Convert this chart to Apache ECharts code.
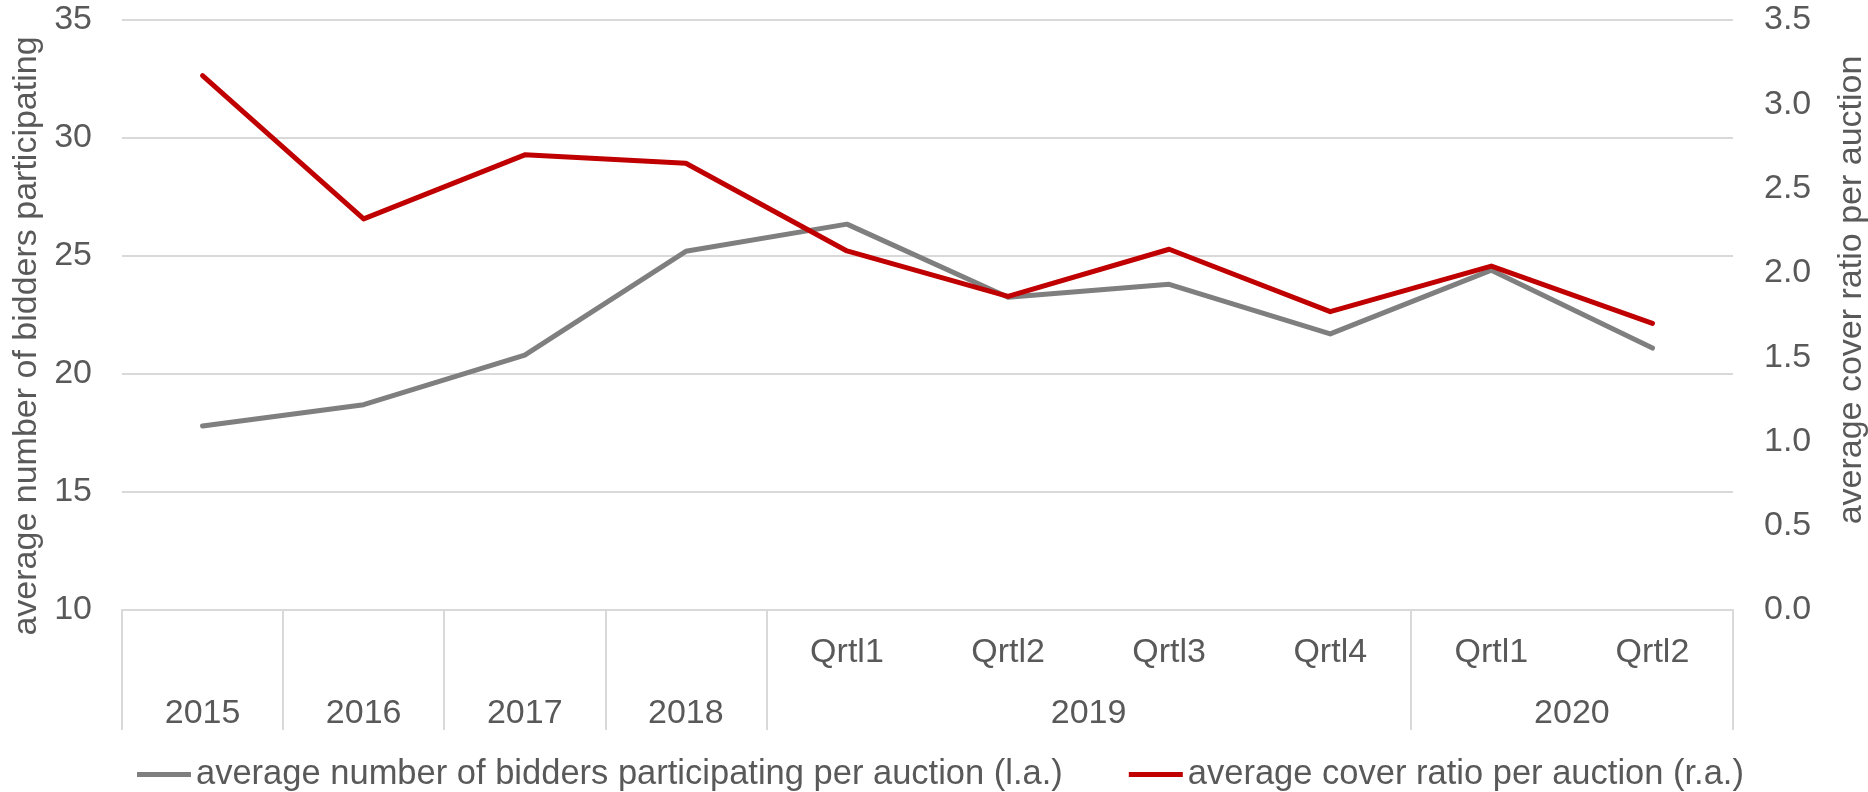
<!DOCTYPE html>
<html>
<head>
<meta charset="utf-8">
<script src="https://cdn.jsdelivr.net/npm/echarts@6/dist/echarts.min.js"></script>
<style>
  html, body { margin: 0; padding: 0; background: #fff; }
  #chart { width: 1868px; height: 792px; }
</style>
</head>
<body>
<div id="chart"></div>
<script>
// periods on the category axis
var quarter_labels = ['', '', '', '', 'Qrtl1', 'Qrtl2', 'Qrtl3', 'Qrtl4', 'Qrtl1', 'Qrtl2'];
var year_labels = ['2015', '2016', '2017', '2018', '2019', '2020'];
var year_spans = [1, 1, 1, 1, 4, 2];   // how many categories each year covers

// series values
var bidders_data = [17.8, 18.7, 20.8, 25.2, 26.35, 23.25, 23.8, 21.7, 24.4, 21.1];
var cover_data = [3.17, 2.32, 2.70, 2.65, 2.13, 1.86, 2.14, 1.77, 2.04, 1.70];

var left_ticks = { min: 10, max: 35, interval: 5 };
var right_ticks = { min: 0, max: 3.5, interval: 0.5 };

var font = 'Liberation Sans, Arial, sans-serif';
var text_color = '#595959';
var grid_color = '#d9d9d9';

// year row: half-category slots, label at the centre of each year, divider at each year edge
var year_slots = [];
var divider_slots = {};
for (var s = 0; s <= quarter_labels.length * 2; s++) year_slots.push('');
var acc = 0;
divider_slots[0] = true;
year_spans.forEach(function (n, i) {
  year_slots[acc * 2 + n] = year_labels[i];
  acc += n;
  divider_slots[acc * 2] = true;
});

var chart = echarts.init(document.getElementById('chart'));
chart.setOption({
  animation: false,
  grid: { left: 122, right: 135, top: 20, bottom: 182, outerBoundsMode: 'none' },
  legend: {
    top: 752,
    left: 132,
    itemWidth: 54,
    itemHeight: 5,
    itemGap: 66,
    icon: 'rect',
    textStyle: { fontFamily: font, fontSize: 34.5, color: text_color },
    data: ['average number of bidders participating per auction (l.a.)', 'average cover ratio per auction (r.a.)']
  },
  xAxis: [
    {
      type: 'category',
      data: quarter_labels,
      boundaryGap: true,
      axisLine: { onZero: false, lineStyle: { color: grid_color, width: 2 } },
      axisTick: { show: false },
      axisLabel: { fontFamily: font, fontSize: 34, color: text_color, margin: 26, interval: 0 }
    },
    {
      type: 'category',
      data: year_slots,
      boundaryGap: false,
      position: 'bottom',
      axisLine: { show: false, onZero: false },
      splitLine: { show: false },
      axisTick: {
        show: true,
        inside: false,
        length: 120,
        interval: function (i) { return !!divider_slots[i]; },
        lineStyle: { color: grid_color, width: 2 }
      },
      axisLabel: {
        fontFamily: font, fontSize: 34, color: text_color, margin: 87,
        interval: 0,
        showMinLabel: true,
        showMaxLabel: true
      }
    }
  ],
  yAxis: [
    {
      type: 'value',
      position: 'left',
      min: left_ticks.min,
      max: left_ticks.max,
      interval: left_ticks.interval,
      name: 'average number of bidders participating',
      nameLocation: 'middle',
      nameGap: 78,
      nameMoveOverlap: false,
      nameTextStyle: { fontFamily: font, fontSize: 34, color: text_color, padding: [0, 42, 0, 0] },
      axisLine: { show: false, onZero: false },
      axisTick: { show: false },
      splitLine: { lineStyle: { color: grid_color, width: 2 } },
      axisLabel: { fontFamily: font, fontSize: 34, color: text_color, margin: 30 }
    },
    {
      type: 'value',
      position: 'right',
      min: right_ticks.min,
      max: right_ticks.max,
      interval: right_ticks.interval,
      name: 'average cover ratio per auction',
      nameLocation: 'middle',
      nameGap: 102,
      nameMoveOverlap: false,
      nameTextStyle: { fontFamily: font, fontSize: 34, color: text_color, padding: [0, 0, 0, 50] },
      axisLine: { show: false, onZero: false },
      axisTick: { show: false },
      splitLine: { show: false },
      axisLabel: {
        fontFamily: font, fontSize: 34, color: text_color, margin: 31,
        formatter: function (v) { return v.toFixed(1); }
      }
    }
  ],
  series: [
    {
      name: 'average number of bidders participating per auction (l.a.)',
      type: 'line',
      xAxisIndex: 0,
      yAxisIndex: 0,
      data: bidders_data,
      symbol: 'none',
      color: '#7f7f7f',
      lineStyle: { color: '#7f7f7f', width: 5, cap: 'round', join: 'round' }
    },
    {
      name: 'average cover ratio per auction (r.a.)',
      type: 'line',
      xAxisIndex: 0,
      yAxisIndex: 1,
      data: cover_data,
      symbol: 'none',
      color: '#c00000',
      lineStyle: { color: '#c00000', width: 5, cap: 'round', join: 'round' }
    }
  ]
});
</script>
</body>
</html>
